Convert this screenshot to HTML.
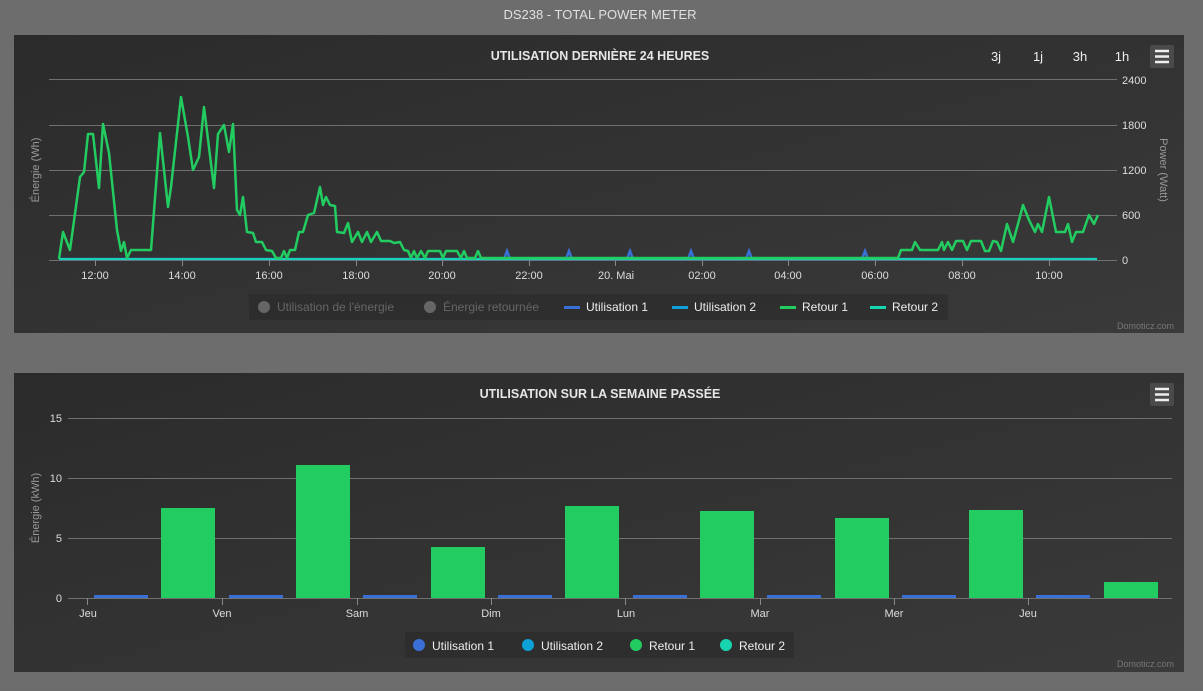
<!DOCTYPE html>
<html><head><meta charset="utf-8"><style>
body{margin:0;width:1203px;height:686px;overflow:hidden;background:#6c6c6c;font-family:"Liberation Sans",sans-serif;}
</style></head><body>
<svg width="1203" height="686" xmlns="http://www.w3.org/2000/svg" font-family="Liberation Sans, sans-serif">
<defs><linearGradient id="pg" x1="0" y1="0" x2="1" y2="1"><stop offset="0" stop-color="#2b2b2b"/><stop offset="1" stop-color="#3a3a3a"/></linearGradient></defs>
<rect width="1203" height="686" fill="#6d6d6d"/>
<text x="600" y="19" text-anchor="middle" font-size="13" fill="#e0e0e0">DS238 - TOTAL POWER METER</text>
<!-- panel 1 -->
<rect x="14" y="35" width="1170" height="298" fill="url(#pg)"/>
<text x="600" y="60" text-anchor="middle" font-size="12.5" font-weight="bold" fill="#e6e6e6">UTILISATION DERNIÈRE 24 HEURES</text>
<g font-size="13" fill="#eee" text-anchor="middle"><text x="996" y="61">3j</text><text x="1038" y="61">1j</text><text x="1080" y="61">3h</text><text x="1122" y="61">1h</text></g>
<rect x="1150" y="45" width="24" height="23" rx="2" fill="#4a4a4a"/>
<g stroke="#eee" stroke-width="2.5"><line x1="1155" y1="51" x2="1169" y2="51"/><line x1="1155" y1="56.5" x2="1169" y2="56.5"/><line x1="1155" y1="62" x2="1169" y2="62"/></g>
<g stroke="#707070" stroke-width="1"><line x1="49" y1="79.5" x2="1117" y2="79.5"/><line x1="49" y1="125.5" x2="1117" y2="125.5"/><line x1="49" y1="170.5" x2="1117" y2="170.5"/><line x1="49" y1="215.5" x2="1117" y2="215.5"/><line x1="49" y1="260.5" x2="1117" y2="260.5"/></g>
<g stroke="#888"><line x1="95.5" y1="260" x2="95.5" y2="266"/><line x1="182.5" y1="260" x2="182.5" y2="266"/><line x1="269.5" y1="260" x2="269.5" y2="266"/><line x1="356.5" y1="260" x2="356.5" y2="266"/><line x1="442.5" y1="260" x2="442.5" y2="266"/><line x1="529.5" y1="260" x2="529.5" y2="266"/><line x1="615.5" y1="260" x2="615.5" y2="266"/><line x1="702.5" y1="260" x2="702.5" y2="266"/><line x1="788.5" y1="260" x2="788.5" y2="266"/><line x1="875.5" y1="260" x2="875.5" y2="266"/><line x1="962.5" y1="260" x2="962.5" y2="266"/><line x1="1049.5" y1="260" x2="1049.5" y2="266"/></g>
<g font-size="11" fill="#ddd" text-anchor="middle"><text x="95" y="279">12:00</text><text x="182" y="279">14:00</text><text x="269" y="279">16:00</text><text x="356" y="279">18:00</text><text x="442" y="279">20:00</text><text x="529" y="279">22:00</text><text x="616" y="279">20. Mai</text><text x="702" y="279">02:00</text><text x="788" y="279">04:00</text><text x="875" y="279">06:00</text><text x="962" y="279">08:00</text><text x="1049" y="279">10:00</text></g>
<g font-size="11" fill="#ddd"><text x="1122" y="84">2400</text><text x="1122" y="129">1800</text><text x="1122" y="174">1200</text><text x="1122" y="219">600</text><text x="1122" y="264">0</text></g>
<text transform="translate(39,170) rotate(-90)" text-anchor="middle" font-size="11" fill="#999">Énergie (Wh)</text>
<text transform="translate(1160,170) rotate(90)" text-anchor="middle" font-size="11" fill="#999">Power (Watt)</text>
<g fill="none" stroke="#3a6fd8" stroke-width="2.5"><path d="M59 259 L1097 259"/><path d="M504 259 L507 251 L510 259 M566 259 L569 251 L572 259 M627 259 L630 251 L633 259 M688 259 L691 251 L694 259 M746 259 L749 251 L752 259 M862 259 L865 251 L868 259"/></g>
<path d="M59 259 L1097 259" stroke="#17d4b0" stroke-width="2"/>
<polyline fill="none" stroke="#22cc61" stroke-width="2.5" stroke-linejoin="round" points="59,259 63,232 70,250 80,177 84,172 88,134 93,134 99,188 103,124 109,153 117,230 121,251 124,242 127,258 131,250 151,250 160,133 168,207 171,187 181,97 188,137 193,170 199,157 204,107 214,188 218,134 224,125 229,152 233,124 237,210 240,215 243,197 247,232 253,233 256,242 262,242 266,250 272,251 276,258 281,258 284,251 287,258 290,250 295,250 299,232 303,232 308,215 314,213 320,187 323,205 326,197 330,205 335,206 337,232 344,233 348,223 352,242 358,232 362,242 367,232 371,242 377,232 381,241 390,241 394,243 400,242 404,250 408,251 411,258 414,251 417,258 421,251 425,258 428,251 440,251 443,258 446,251 457,251 461,258 464,251 467,258 475,258 478,251 481,258 898,258 901,250 912,250 915,242 920,250 938,250 942,242 944,250 948,242 952,250 956,241 963,241 967,250 971,241 981,241 985,251 989,251 993,241 997,242 1001,251 1007,224 1013,242 1018,224 1023,205 1029,220 1035,232 1038,224 1042,232 1049,197 1056,232 1065,232 1068,224 1072,242 1076,232 1083,232 1089,215 1094,224 1098,215"/>
<rect x="249" y="294" width="699" height="26" fill="#2a2a2a" opacity="0.6"/>
<g font-size="12"><circle cx="264" cy="307" r="6" fill="#666"/><text x="277" y="311" fill="#666">Utilisation de l'énergie</text>
<circle cx="430" cy="307" r="6" fill="#666"/><text x="443" y="311" fill="#666">Énergie retournée</text>
<rect x="564" y="306" width="16" height="3" fill="#3a6fd8"/><text x="586" y="311" fill="#eee">Utilisation 1</text>
<rect x="672" y="306" width="16" height="3" fill="#0fa0d8"/><text x="694" y="311" fill="#eee">Utilisation 2</text>
<rect x="780" y="306" width="16" height="3" fill="#22cc61"/><text x="802" y="311" fill="#eee">Retour 1</text>
<rect x="870" y="306" width="16" height="3" fill="#17d4b0"/><text x="892" y="311" fill="#eee">Retour 2</text></g>
<text x="1174" y="329" text-anchor="end" font-size="9" fill="#777">Domoticz.com</text>
<!-- panel 2 -->
<rect x="14" y="373" width="1170" height="299" fill="url(#pg)"/>
<text x="600" y="398" text-anchor="middle" font-size="12.5" font-weight="bold" fill="#e6e6e6">UTILISATION SUR LA SEMAINE PASSÉE</text>
<rect x="1150" y="383" width="24" height="23" rx="2" fill="#4a4a4a"/>
<g stroke="#eee" stroke-width="2.5"><line x1="1155" y1="389" x2="1169" y2="389"/><line x1="1155" y1="394.5" x2="1169" y2="394.5"/><line x1="1155" y1="400" x2="1169" y2="400"/></g>
<g stroke="#707070"><line x1="68" y1="418.5" x2="1172" y2="418.5"/><line x1="68" y1="478.5" x2="1172" y2="478.5"/><line x1="68" y1="538.5" x2="1172" y2="538.5"/><line x1="68" y1="598.5" x2="1172" y2="598.5"/></g>
<g font-size="11" fill="#ddd" text-anchor="end"><text x="62" y="422">15</text><text x="62" y="482">10</text><text x="62" y="542">5</text><text x="62" y="602">0</text></g>
<text transform="translate(39,508) rotate(-90)" text-anchor="middle" font-size="11" fill="#999">Énergie (kWh)</text>
<g fill="#22cc61"><rect x="161" y="508" width="54" height="90"/><rect x="296" y="465" width="54" height="133"/><rect x="431" y="547" width="54" height="51"/><rect x="565" y="506" width="54" height="92"/><rect x="700" y="511" width="54" height="87"/><rect x="835" y="518" width="54" height="80"/><rect x="969" y="510" width="54" height="88"/><rect x="1104" y="582" width="54" height="16"/></g>
<g fill="#3a6fd8"><rect x="94" y="595" width="54" height="3"/><rect x="229" y="595" width="54" height="3"/><rect x="363" y="595" width="54" height="3"/><rect x="498" y="595" width="54" height="3"/><rect x="633" y="595" width="54" height="3"/><rect x="767" y="595" width="54" height="3"/><rect x="902" y="595" width="54" height="3"/><rect x="1036" y="595" width="54" height="3"/></g>
<g stroke="#888"><line x1="87.5" y1="598" x2="87.5" y2="605"/><line x1="222.5" y1="598" x2="222.5" y2="605"/><line x1="357.5" y1="598" x2="357.5" y2="605"/><line x1="491.5" y1="598" x2="491.5" y2="605"/><line x1="625.5" y1="598" x2="625.5" y2="605"/><line x1="760.5" y1="598" x2="760.5" y2="605"/><line x1="894.5" y1="598" x2="894.5" y2="605"/><line x1="1028.5" y1="598" x2="1028.5" y2="605"/></g>
<g font-size="11" fill="#ddd" text-anchor="middle"><text x="88" y="617">Jeu</text><text x="222" y="617">Ven</text><text x="357" y="617">Sam</text><text x="491" y="617">Dim</text><text x="626" y="617">Lun</text><text x="760" y="617">Mar</text><text x="894" y="617">Mer</text><text x="1028" y="617">Jeu</text></g>
<rect x="405" y="632" width="389" height="26" fill="#2a2a2a" opacity="0.6"/>
<g font-size="12" fill="#eee"><circle cx="419" cy="645" r="6" fill="#3a6fd8"/><text x="432" y="650">Utilisation 1</text>
<circle cx="528" cy="645" r="6" fill="#0fa0d8"/><text x="541" y="650">Utilisation 2</text>
<circle cx="636" cy="645" r="6" fill="#22cc61"/><text x="649" y="650">Retour 1</text>
<circle cx="726" cy="645" r="6" fill="#17d4b0"/><text x="739" y="650">Retour 2</text></g>
<text x="1174" y="667" text-anchor="end" font-size="9" fill="#777">Domoticz.com</text>
</svg>
</body></html>
